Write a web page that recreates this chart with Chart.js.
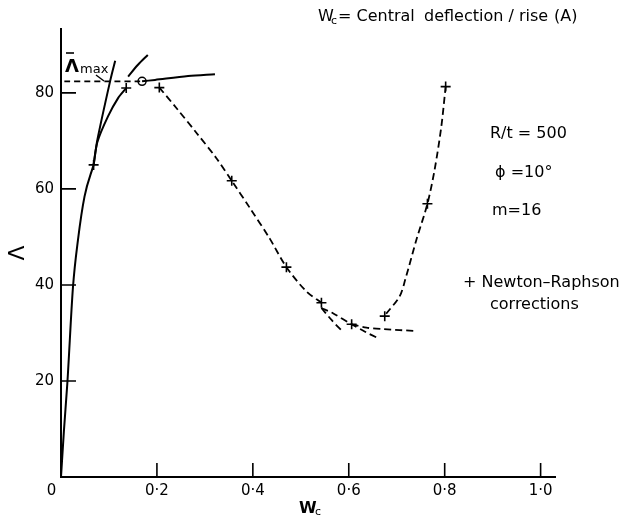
<!DOCTYPE html>
<html><head><meta charset="utf-8">
<script src="https://cdn.jsdelivr.net/npm/chart.js@4/dist/chart.umd.min.js"></script>
<style>html,body{margin:0;padding:0;background:#fff}#wrap{width:622px;height:519px;position:relative}</style>
</head><body><div id="wrap"><canvas id="c" width="622" height="519"></canvas></div>
<script>
// ---- data ----
const xTickValues = [0, 0.2, 0.4, 0.6, 0.8, 1.0];
const yTickValues = [0, 20, 40, 60, 80];

// solid: initial rise from origin
const riseW = [0, 0.006, 0.0132, 0.025, 0.0354, 0.049, 0.068];
const riseL = [0, 9.5, 19.5, 39.6, 49.4, 58.4, 65.0];
// solid: steep (near-straight) branch
const steepW = [0.068, 0.076, 0.103, 0.113];
const steepL = [65.0, 70.3, 82.7, 86.7];
// solid: curved branch up to the N-R point
const bendW = [0.068, 0.076, 0.098, 0.119, 0.136];
const bendL = [65.0, 69.8, 75.1, 78.9, 81.0];
// solid: short arc above Lambda-max
const arcW = [0.14, 0.16, 0.181];
const arcL = [83.4, 85.8, 87.9];
// solid: plateau curve right of the limit point
const plateauW = [0.169, 0.196, 0.265, 0.321];
const plateauL = [82.4, 82.7, 83.5, 83.9];
// dashed: Lambda-max level
const maxW = [0.007, 0.165];
const maxL = [82.4, 82.4];
// dashed: descending path
const descW = [0.205, 0.241, 0.283, 0.324, 0.356, 0.394, 0.435, 0.470, 0.512, 0.543];
const descL = [81.1, 76.8, 71.6, 66.4, 61.7, 56.0, 49.7, 43.7, 38.6, 36.3];
// dashed branches near the minimum
const branch1W = [0.543, 0.565, 0.587];
const branch1L = [35.2, 32.6, 30.3];
const branch2W = [0.543, 0.567, 0.606, 0.633, 0.661];
const branch2L = [35.2, 34.1, 31.8, 30.3, 28.9];
const branch3W = [0.606, 0.637, 0.671, 0.741];
const branch3L = [31.8, 31.1, 30.8, 30.4];
// dashed: rising path
const riseBackW = [0.678, 0.706, 0.718, 0.741, 0.764, 0.779, 0.793, 0.802];
const riseBackL = [34, 37.6, 41.2, 49.4, 56.9, 64, 73, 81.3];
// Newton-Raphson correction points (+)
const nrW = [0.068, 0.136, 0.205, 0.356, 0.470, 0.543, 0.606, 0.675, 0.764, 0.802];
const nrL = [65.0, 81.0, 81.1, 61.7, 43.7, 36.3, 31.8, 33.5, 56.9, 81.3];
// limit point (o)
const limitW = [0.169];
const limitL = [82.4];

const pts = (w, l) => w.map((v, i) => ({x: v, y: l[i]}));
const solid = (w, l) => ({data: pts(w, l), borderColor: '#000', borderWidth: 2, pointRadius: 0,
  fill: false, tension: 0.3});
const dashed = (w, l) => Object.assign(solid(w, l), {borderDash: [7, 4], borderWidth: 1.8});

const FONT = '"DejaVu Sans", sans-serif';

const decor = {
  id: 'decor',
  afterDraw(chart) {
    const ctx = chart.ctx, xs = chart.scales.x, ys = chart.scales.y;
    const a = chart.chartArea;
    ctx.save();
    ctx.strokeStyle = '#000'; ctx.fillStyle = '#000'; ctx.lineWidth = 1.6;
    // inward ticks
    ctx.beginPath();
    yTickValues.forEach(v => { if (v === 0) return; const y = ys.getPixelForValue(v);
      ctx.moveTo(a.left, y); ctx.lineTo(a.left + 15, y); });
    xTickValues.forEach(v => { if (v === 0) return; const x = xs.getPixelForValue(v);
      ctx.moveTo(x, a.bottom); ctx.lineTo(x, a.bottom - 14); });
    ctx.stroke();
    ctx.textBaseline = 'alphabetic'; ctx.textAlign = 'left';
    // Lambda max label
    ctx.font = 'bold 18px ' + FONT;
    ctx.fillText('Λ', 65, 72);
    ctx.lineWidth = 1.6;
    ctx.beginPath(); ctx.moveTo(66, 53); ctx.lineTo(74, 53); ctx.stroke();
    ctx.font = '13px ' + FONT;
    ctx.fillText('max', 80, 73);
    ctx.lineWidth = 1.4;
    ctx.beginPath(); ctx.moveTo(96, 75); ctx.lineTo(104, 81); ctx.stroke();
    // top caption
    ctx.font = '16px ' + FONT;
    ctx.fillText('W', 318, 21);
    ctx.font = '11px ' + FONT; ctx.fillText('c', 331, 24);
    ctx.font = '16px ' + FONT;
    ctx.fillText('= Central', 338, 21);
    ctx.fillText('deflection / rise', 424, 21);
    ctx.fillText('(A)', 554, 21);
    // parameters
    ctx.font = '16px ' + FONT;
    ctx.fillText('R/t = 500', 490, 138);
    ctx.fillText('ϕ =10°', 495, 177);
    ctx.fillText('m=16', 492, 215);
    ctx.fillText('+ Newton–Raphson', 463, 287);
    ctx.fillText('corrections', 490, 309);
    // x title
    ctx.font = 'bold 16px ' + FONT;
    ctx.fillText('W', 299, 513);
    ctx.font = '11px ' + FONT; ctx.fillText('c', 315, 515);
    ctx.restore();
  }
};

new Chart(document.getElementById('c'), {
  type: 'line',
  data: {
    datasets: [
      Object.assign(solid(riseW, riseL), {cubicInterpolationMode: 'monotone'}),
      solid(steepW, steepL), solid(bendW, bendL), solid(arcW, arcL),
      solid(plateauW, plateauL),
      Object.assign(dashed(maxW, maxL), {borderDash: [6, 4]}),
      dashed(descW, descL), dashed(branch1W, branch1L), dashed(branch2W, branch2L),
      dashed(branch3W, branch3L), dashed(riseBackW, riseBackL),
      {data: pts(nrW, nrL), showLine: false, pointStyle: 'cross', pointRadius: 5,
        pointBorderWidth: 1.6, pointBorderColor: '#000'},
      {data: pts(limitW, limitL), showLine: false, pointStyle: 'circle', pointRadius: 4,
        pointBorderWidth: 1.5, pointBorderColor: '#000', pointBackgroundColor: '#fff'}
    ]
  },
  options: {
    responsive: false, animation: false, devicePixelRatio: 1,
    layout: {padding: {top: 29, right: 67, left: 0, bottom: 0}},
    plugins: {legend: {display: false}, tooltip: {enabled: false}},
    scales: {
      x: {
        type: 'linear', min: 0, max: 1.03,
        grid: {display: false, drawTicks: false},
        border: {display: true, color: '#000', width: 2},
        afterBuildTicks: s => { s.ticks = xTickValues.map(v => ({value: v})); },
        afterFit: s => { s.height = 42; },
        ticks: {color: '#000', padding: 5, font: {family: FONT, size: 15},
          callback: v => v === 0 ? '0    ' : v.toFixed(1).replace('.', '·')}
      },
      y: {
        type: 'linear', min: 0, max: 93.3,
        grid: {display: false, drawTicks: false},
        border: {display: true, color: '#000', width: 2},
        afterBuildTicks: s => { s.ticks = yTickValues.map(v => ({value: v})); },
        afterFit: s => { s.width = 61; },
        ticks: {color: '#000', padding: 7, font: {family: FONT, size: 15},
          callback: v => v === 0 ? '' : String(v)},
        title: {display: true, text: 'Λ', color: '#000', padding: {top: 5, bottom: 0},
          font: {family: FONT, size: 22}}
      }
    }
  },
  plugins: [decor]
});
</script></body></html>
